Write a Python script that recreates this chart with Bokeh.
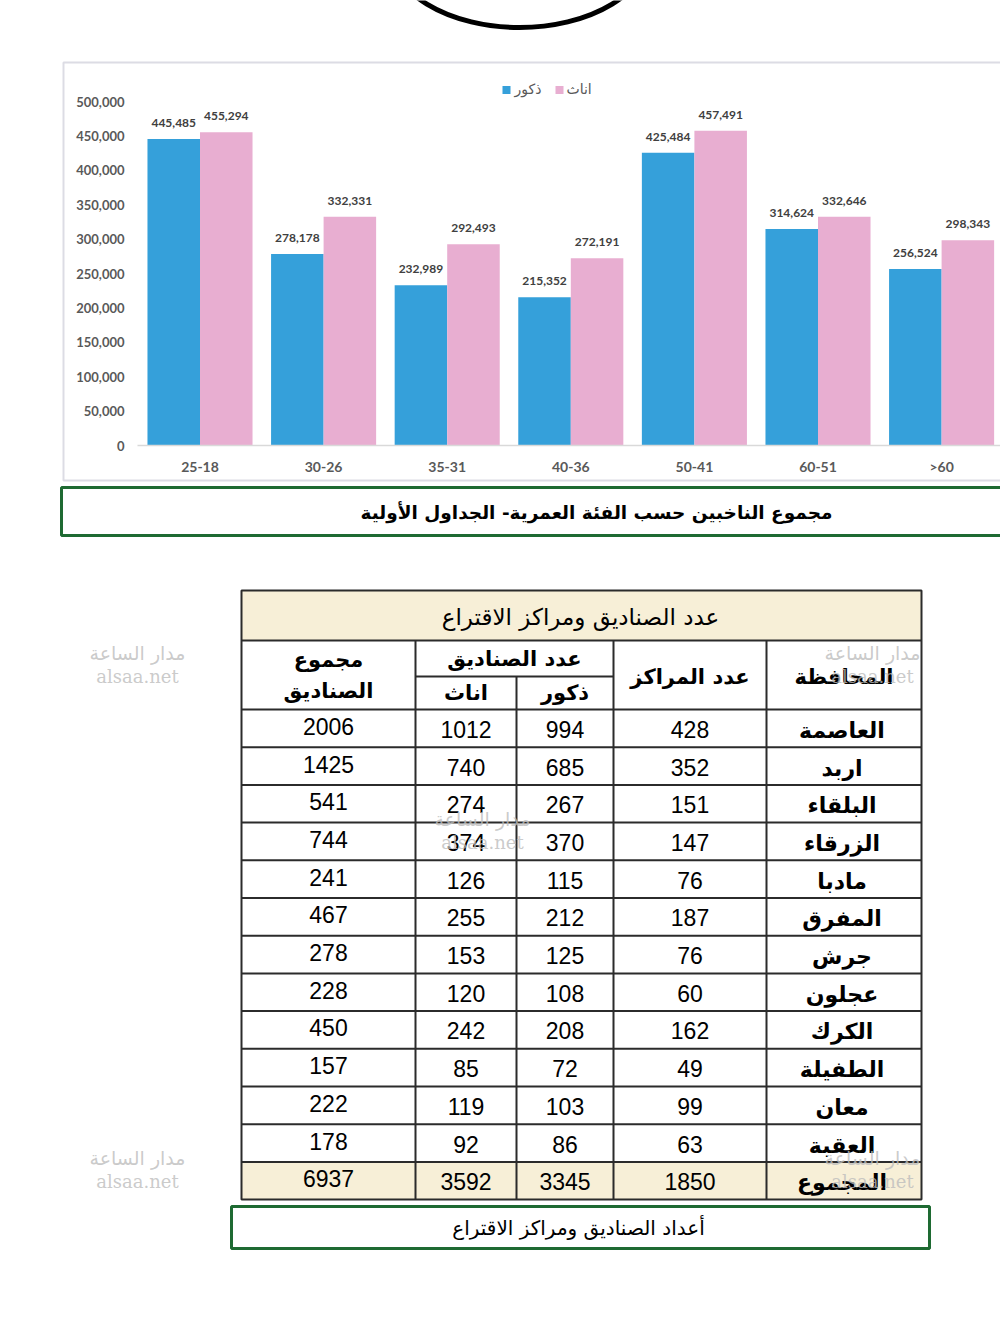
import numpy as np
from bokeh.plotting import figure
from bokeh.models import Range1d
from bokeh.core.properties import value
from bokeh.embed import file_html
from bokeh.resources import INLINE

# ---------------- data ----------------
age_groups = ["25-18", "30-26", "35-31", "40-36", "50-41", "60-51", ">60"]
males = [445485, 278178, 232989, 215352, 425484, 314624, 256524]
females = [455294, 332331, 292493, 272191, 457491, 332646, 298343]
y_ticks = [0, 50000, 100000, 150000, 200000, 250000, 300000, 350000, 400000, 450000, 500000]
series_names = ["ذكور", "اناث"]
series_colors = ["#35A0DA", "#E8AED1"]
chart_caption = "مجموع الناخبين حسب الفئة العمرية- الجداول الأولية"

table_title = "عدد الصناديق ومراكز الاقتراع"
governorates = ["العاصمة", "اربد", "البلقاء", "الزرقاء", "مادبا", "المفرق", "جرش",
                "عجلون", "الكرك", "الطفيلة", "معان", "العقبة"]
centers = [428, 352, 151, 147, 76, 187, 76, 60, 162, 49, 99, 63]
boxes_male = [994, 685, 267, 370, 115, 212, 125, 108, 208, 72, 103, 86]
boxes_female = [1012, 740, 274, 374, 126, 255, 153, 120, 242, 85, 119, 92]
boxes_total = [2006, 1425, 541, 744, 241, 467, 278, 228, 450, 157, 222, 178]
total_label = "المجموع"
total_values = [1850, 3345, 3592, 6937]  # centers, male, female, total
table_caption = "أعداد الصناديق ومراكز الاقتراع"
watermark = ["مدار الساعة", "alsaa.net"]

# ---------------- page canvas (pixel coordinates) ----------------
W, H = 1000, 1337
p = figure(width=W, height=H, x_range=Range1d(0, W), y_range=Range1d(H, 0),
           output_backend="svg", toolbar_location=None, title=None,
           x_axis_location=None, y_axis_location=None, min_border=0,
           outline_line_color=None, background_fill_color="white",
           border_fill_color="white")
p.xgrid.visible = False
p.ygrid.visible = False

# decorative ellipse at top
p.ellipse(x=[519], y=[-53], width=[262], height=[160], fill_color=None,
          line_color="black", line_width=5)

# ---------------- bar chart through extra scales ----------------
ZERO_PX, TOP_PX, TOP_VAL = 445, 101, 500000
k = TOP_VAL / (ZERO_PX - TOP_PX)
G0, GSTEP = 199.5, 123.6
p.extra_y_ranges = {"val": Range1d(start=-(H - ZERO_PX) * k, end=ZERO_PX * k)}
p.extra_x_ranges = {"grp": Range1d(start=(0 - G0) / GSTEP, end=(W - G0) / GSTEP)}

# chart box
p.quad(left=[63], right=[1010], top=[62], bottom=[480], fill_color=None,
       line_color="#dcdce4", line_width=2)

idx = np.arange(len(age_groups), dtype=float)
bw = 0.425
for j, (vals, col) in enumerate([(males, series_colors[0]), (females, series_colors[1])]):
    xs = idx + (j - 0.5) * bw
    p.vbar(x=xs, width=bw, top=vals, bottom=0, fill_color=col, line_color=None,
           x_range_name="grp", y_range_name="val")
    p.text(x=xs, y=vals, text=[f"{v:,}" for v in vals], x_range_name="grp",
           y_range_name="val", text_align="center", text_baseline="middle",
           y_offset=-16, text_font=value("Lato"), text_font_style="bold",
           text_font_size="12px", text_color="#404040")

# baseline (x axis line)
p.segment(x0=[137], x1=[1000], y0=[0], y1=[0], y_range_name="val",
          line_color="#d9d9d9", line_width=1.5)

# y tick labels
p.text(x=[124] * len(y_ticks), y=y_ticks, text=[f"{t:,}" for t in y_ticks],
       y_range_name="val", text_align="right", text_baseline="middle",
       text_font=value("Lato"), text_font_style="bold", text_font_size="13px",
       text_color="#595959")

# x category labels
p.text(x=idx, y=[466] * len(age_groups), text=age_groups, x_range_name="grp",
       text_align="center", text_baseline="middle", text_font=value("Lato"),
       text_font_style="bold", text_font_size="14px", text_color="#595959")

# legend
leg_sq_x = [506, 559]
leg_tx_x = [514, 566]
p.rect(x=leg_sq_x, y=[89.5, 89.5], width=8, height=8, fill_color=series_colors,
       line_color=None)
p.text(x=leg_tx_x, y=[88, 88], text=series_names, text_align="left",
       text_baseline="middle", text_font=value("DejaVu Sans"),
       text_font_size="14px", text_color="#595959")

# chart caption box
p.quad(left=[61], right=[1010], top=[487], bottom=[535], fill_color="white",
       line_color="#1E6A32", line_width=3)
p.text(x=[596], y=[512], text=[chart_caption], text_align="center",
       text_baseline="middle", text_font=value("DejaVu Sans"),
       text_font_style="bold", text_font_size="18.5px", text_color="black")

# ---------------- table ----------------
col_edges = [241, 415, 516, 613, 766, 921]
col_mid = [(a + b) / 2 for a, b in zip(col_edges[:-1], col_edges[1:])]
T_TOP, T_HEAD, T_SUB, T_BODY = 590, 640, 676, 709
n_rows = len(governorates) + 1
row_h = 37.7
T_BOT = T_BODY + n_rows * row_h
cream = "#F7EFD7"
line_col = "#2b2b2b"

# fills
p.quad(left=[col_edges[0]], right=[col_edges[-1]], top=[T_TOP], bottom=[T_HEAD],
       fill_color=cream, line_color=None)
p.quad(left=[col_edges[0]], right=[col_edges[-1]], top=[T_BODY + (n_rows - 1) * row_h],
       bottom=[T_BOT], fill_color=cream, line_color=None)

# horizontal lines
hy = [T_HEAD, T_BODY] + [T_BODY + r * row_h for r in range(1, n_rows)]
p.segment(x0=[col_edges[0]] * len(hy), x1=[col_edges[-1]] * len(hy), y0=hy, y1=hy,
          line_color=line_col, line_width=2)
p.segment(x0=[col_edges[1]], x1=[col_edges[3]], y0=[T_SUB], y1=[T_SUB],
          line_color=line_col, line_width=2)
# vertical lines
p.segment(x0=[col_edges[1], col_edges[3], col_edges[4]],
          x1=[col_edges[1], col_edges[3], col_edges[4]],
          y0=[T_HEAD] * 3, y1=[T_BOT] * 3, line_color=line_col, line_width=2)
p.segment(x0=[col_edges[2]], x1=[col_edges[2]], y0=[T_SUB], y1=[T_BOT],
          line_color=line_col, line_width=2)
# outer frame
p.quad(left=[col_edges[0]], right=[col_edges[-1]], top=[T_TOP], bottom=[T_BOT],
       fill_color=None, line_color=line_col, line_width=2)

arab = dict(text_align="center", text_baseline="middle",
            text_font=value("DejaVu Sans"), text_color="black")
p.text(x=[580], y=[616], text=[table_title], text_font_size="23px", **arab)
hdr = dict(text_font_size="21px", text_font_style="bold", **arab)
p.text(x=[col_mid[0], col_mid[0]], y=[659, 690], text=["مجموع", "الصناديق"], **hdr)
p.text(x=[(col_edges[1] + col_edges[3]) / 2], y=[658], text=["عدد الصناديق"], **hdr)
p.text(x=[col_mid[1], col_mid[2]], y=[692, 692], text=["اناث", "ذكور"], **hdr)
p.text(x=[col_mid[3], col_mid[4]], y=[676, 676], text=["عدد المراكز", "المحافظة"], **hdr)

# body
row_y = np.array([T_BODY + (r + 0.5) * row_h for r in range(n_rows)])
names = governorates + [total_label]
name_style = dict(hdr)
name_style["text_font_size"] = "22px"
p.text(x=[col_mid[4] - 2] * n_rows, y=row_y + 2, text=names, **name_style)
num = dict(text_align="center", text_baseline="middle",
           text_font=value("Liberation Sans"), text_font_size="23px",
           text_color="black")
col_c = centers + [total_values[0]]
col_m = boxes_male + [total_values[1]]
col_f = boxes_female + [total_values[2]]
col_t = boxes_total + [total_values[3]]
p.text(x=[col_mid[3]] * n_rows, y=row_y + 1, text=[str(v) for v in col_c], **num)
p.text(x=[col_mid[2]] * n_rows, y=row_y + 1, text=[str(v) for v in col_m], **num)
p.text(x=[col_mid[1]] * n_rows, y=row_y + 1, text=[str(v) for v in col_f], **num)
p.text(x=[col_mid[0]] * n_rows, y=row_y - 2, text=[str(v) for v in col_t], **num)

# table caption
p.quad(left=[231], right=[929], top=[1206], bottom=[1248], fill_color="white",
       line_color="#1E6A32", line_width=3)
p.text(x=[578], y=[1227], text=[table_caption], text_font_size="20px", **arab)

# watermarks
wm_x = [137, 137, 872, 872, 482]
wm_y = [652, 1157, 652, 1157, 818]
p.text(x=wm_x, y=wm_y, text=[watermark[0]] * 5, text_align="center",
       text_baseline="middle", text_font=value("DejaVu Sans"),
       text_font_size="19px", text_color="#bdbdbd", text_alpha=0.8)
p.text(x=wm_x, y=[v + 24 for v in wm_y], text=[watermark[1]] * 5, text_align="center",
       text_baseline="middle", text_font=value("DejaVu Serif"),
       text_font_size="18px", text_color="#bdbdbd", text_alpha=0.8)

open("out.html", "w").write(file_html(p, INLINE))
